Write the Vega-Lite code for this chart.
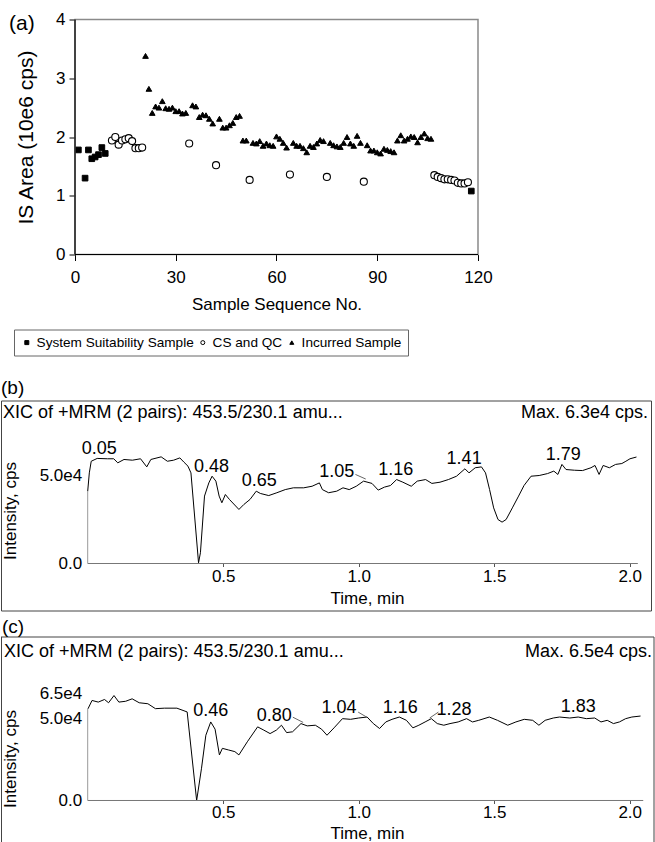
{
  "$schema": "https://vega.github.io/schema/vega-lite/v6.json",
  "padding": {"top": 10.5, "left": 0, "right": 0, "bottom": 0},
  "bounds": "flush",
  "spacing": 26,
  "config": {
    "font": "Liberation Sans",
    "view": {"stroke": null},
    "axis": {"labelFont": "Liberation Sans", "titleFont": "Liberation Sans", "labelColor": "black", "titleColor": "black", "titleFontWeight": "normal", "grid": false, "labelFlush": false, "labelOverlap": false, "domain": false, "tickColor": "black"},
    "legend": {"orient": "none", "legendX": 13, "legendY": 310, "direction": "horizontal", "title": null, "labelFontSize": 13.6, "labelFont": "Liberation Sans", "labelColor": "black", "labelLimit": 400, "symbolSize": 16, "symbolStrokeWidth": 1, "strokeColor": "#666", "fillColor": "white", "padding": 6, "columnPadding": 2, "labelOffset": 3},
    "text": {"font": "Liberation Sans", "fill": "black"}
  },
  "datasets": {
    "isarea": [
      {"sample": 1, "area": 1.78, "group": "System Suitability Sample"},
      {"sample": 3, "area": 1.30, "group": "System Suitability Sample"},
      {"sample": 4, "area": 1.78, "group": "System Suitability Sample"},
      {"sample": 5, "area": 1.63, "group": "System Suitability Sample"},
      {"sample": 6, "area": 1.66, "group": "System Suitability Sample"},
      {"sample": 7, "area": 1.70, "group": "System Suitability Sample"},
      {"sample": 8, "area": 1.82, "group": "System Suitability Sample"},
      {"sample": 9, "area": 1.72, "group": "System Suitability Sample"},
      {"sample": 118, "area": 1.08, "group": "System Suitability Sample"},
      {"sample": 11, "area": 1.94, "group": "CS and QC"},
      {"sample": 12, "area": 2.00, "group": "CS and QC"},
      {"sample": 13, "area": 1.87, "group": "CS and QC"},
      {"sample": 14, "area": 1.94, "group": "CS and QC"},
      {"sample": 15, "area": 1.96, "group": "CS and QC"},
      {"sample": 16, "area": 1.98, "group": "CS and QC"},
      {"sample": 17, "area": 1.93, "group": "CS and QC"},
      {"sample": 18, "area": 1.81, "group": "CS and QC"},
      {"sample": 19, "area": 1.81, "group": "CS and QC"},
      {"sample": 20, "area": 1.82, "group": "CS and QC"},
      {"sample": 34, "area": 1.89, "group": "CS and QC"},
      {"sample": 42, "area": 1.52, "group": "CS and QC"},
      {"sample": 52, "area": 1.27, "group": "CS and QC"},
      {"sample": 64, "area": 1.36, "group": "CS and QC"},
      {"sample": 75, "area": 1.32, "group": "CS and QC"},
      {"sample": 86, "area": 1.24, "group": "CS and QC"},
      {"sample": 107, "area": 1.35, "group": "CS and QC"},
      {"sample": 108, "area": 1.32, "group": "CS and QC"},
      {"sample": 109, "area": 1.30, "group": "CS and QC"},
      {"sample": 110, "area": 1.28, "group": "CS and QC"},
      {"sample": 111, "area": 1.28, "group": "CS and QC"},
      {"sample": 112, "area": 1.27, "group": "CS and QC"},
      {"sample": 113, "area": 1.26, "group": "CS and QC"},
      {"sample": 114, "area": 1.22, "group": "CS and QC"},
      {"sample": 115, "area": 1.21, "group": "CS and QC"},
      {"sample": 116, "area": 1.21, "group": "CS and QC"},
      {"sample": 117, "area": 1.23, "group": "CS and QC"},
      {"sample": 21, "area": 3.38, "group": "Incurred Sample"},
      {"sample": 22, "area": 2.82, "group": "Incurred Sample"},
      {"sample": 23, "area": 2.41, "group": "Incurred Sample"},
      {"sample": 24, "area": 2.52, "group": "Incurred Sample"},
      {"sample": 25, "area": 2.50, "group": "Incurred Sample"},
      {"sample": 26, "area": 2.61, "group": "Incurred Sample"},
      {"sample": 27, "area": 2.49, "group": "Incurred Sample"},
      {"sample": 28, "area": 2.48, "group": "Incurred Sample"},
      {"sample": 29, "area": 2.50, "group": "Incurred Sample"},
      {"sample": 30, "area": 2.44, "group": "Incurred Sample"},
      {"sample": 31, "area": 2.44, "group": "Incurred Sample"},
      {"sample": 32, "area": 2.40, "group": "Incurred Sample"},
      {"sample": 33, "area": 2.41, "group": "Incurred Sample"},
      {"sample": 35, "area": 2.54, "group": "Incurred Sample"},
      {"sample": 36, "area": 2.52, "group": "Incurred Sample"},
      {"sample": 37, "area": 2.34, "group": "Incurred Sample"},
      {"sample": 38, "area": 2.38, "group": "Incurred Sample"},
      {"sample": 39, "area": 2.37, "group": "Incurred Sample"},
      {"sample": 40, "area": 2.31, "group": "Incurred Sample"},
      {"sample": 41, "area": 2.23, "group": "Incurred Sample"},
      {"sample": 43, "area": 2.31, "group": "Incurred Sample"},
      {"sample": 44, "area": 2.16, "group": "Incurred Sample"},
      {"sample": 45, "area": 2.16, "group": "Incurred Sample"},
      {"sample": 46, "area": 2.20, "group": "Incurred Sample"},
      {"sample": 47, "area": 2.24, "group": "Incurred Sample"},
      {"sample": 48, "area": 2.34, "group": "Incurred Sample"},
      {"sample": 49, "area": 2.36, "group": "Incurred Sample"},
      {"sample": 50, "area": 1.94, "group": "Incurred Sample"},
      {"sample": 51, "area": 1.94, "group": "Incurred Sample"},
      {"sample": 53, "area": 1.90, "group": "Incurred Sample"},
      {"sample": 54, "area": 1.89, "group": "Incurred Sample"},
      {"sample": 55, "area": 1.93, "group": "Incurred Sample"},
      {"sample": 56, "area": 1.85, "group": "Incurred Sample"},
      {"sample": 57, "area": 1.89, "group": "Incurred Sample"},
      {"sample": 58, "area": 1.86, "group": "Incurred Sample"},
      {"sample": 59, "area": 1.85, "group": "Incurred Sample"},
      {"sample": 60, "area": 2.01, "group": "Incurred Sample"},
      {"sample": 61, "area": 1.97, "group": "Incurred Sample"},
      {"sample": 62, "area": 1.90, "group": "Incurred Sample"},
      {"sample": 63, "area": 1.82, "group": "Incurred Sample"},
      {"sample": 65, "area": 1.90, "group": "Incurred Sample"},
      {"sample": 66, "area": 1.85, "group": "Incurred Sample"},
      {"sample": 67, "area": 1.85, "group": "Incurred Sample"},
      {"sample": 68, "area": 1.81, "group": "Incurred Sample"},
      {"sample": 69, "area": 1.74, "group": "Incurred Sample"},
      {"sample": 70, "area": 1.85, "group": "Incurred Sample"},
      {"sample": 71, "area": 1.83, "group": "Incurred Sample"},
      {"sample": 72, "area": 1.89, "group": "Incurred Sample"},
      {"sample": 73, "area": 1.95, "group": "Incurred Sample"},
      {"sample": 74, "area": 1.93, "group": "Incurred Sample"},
      {"sample": 76, "area": 1.90, "group": "Incurred Sample"},
      {"sample": 77, "area": 1.86, "group": "Incurred Sample"},
      {"sample": 78, "area": 1.84, "group": "Incurred Sample"},
      {"sample": 79, "area": 1.83, "group": "Incurred Sample"},
      {"sample": 80, "area": 1.90, "group": "Incurred Sample"},
      {"sample": 81, "area": 2.00, "group": "Incurred Sample"},
      {"sample": 82, "area": 1.89, "group": "Incurred Sample"},
      {"sample": 83, "area": 1.85, "group": "Incurred Sample"},
      {"sample": 84, "area": 2.02, "group": "Incurred Sample"},
      {"sample": 85, "area": 1.90, "group": "Incurred Sample"},
      {"sample": 87, "area": 1.86, "group": "Incurred Sample"},
      {"sample": 88, "area": 1.77, "group": "Incurred Sample"},
      {"sample": 89, "area": 1.77, "group": "Incurred Sample"},
      {"sample": 90, "area": 1.74, "group": "Incurred Sample"},
      {"sample": 91, "area": 1.72, "group": "Incurred Sample"},
      {"sample": 92, "area": 1.80, "group": "Incurred Sample"},
      {"sample": 93, "area": 1.78, "group": "Incurred Sample"},
      {"sample": 94, "area": 1.76, "group": "Incurred Sample"},
      {"sample": 95, "area": 1.74, "group": "Incurred Sample"},
      {"sample": 96, "area": 1.94, "group": "Incurred Sample"},
      {"sample": 97, "area": 2.03, "group": "Incurred Sample"},
      {"sample": 98, "area": 1.94, "group": "Incurred Sample"},
      {"sample": 99, "area": 1.97, "group": "Incurred Sample"},
      {"sample": 100, "area": 2.01, "group": "Incurred Sample"},
      {"sample": 101, "area": 2.00, "group": "Incurred Sample"},
      {"sample": 102, "area": 1.91, "group": "Incurred Sample"},
      {"sample": 103, "area": 2.00, "group": "Incurred Sample"},
      {"sample": 104, "area": 2.06, "group": "Incurred Sample"},
      {"sample": 105, "area": 1.98, "group": "Incurred Sample"},
      {"sample": 106, "area": 1.97, "group": "Incurred Sample"}
    ],
    "chromB": [
      {"t": 0.000, "i": 41000}, {"t": 0.006, "i": 51500}, {"t": 0.013, "i": 58100}, {"t": 0.035, "i": 59700},
      {"t": 0.073, "i": 59500}, {"t": 0.096, "i": 59500}, {"t": 0.111, "i": 57200}, {"t": 0.134, "i": 59100},
      {"t": 0.165, "i": 58700}, {"t": 0.195, "i": 59500}, {"t": 0.218, "i": 54900}, {"t": 0.233, "i": 59100},
      {"t": 0.271, "i": 60600}, {"t": 0.294, "i": 58100}, {"t": 0.317, "i": 58700}, {"t": 0.340, "i": 60000},
      {"t": 0.355, "i": 57600}, {"t": 0.370, "i": 55300}, {"t": 0.381, "i": 51500}, {"t": 0.409, "i": 400},
      {"t": 0.416, "i": 6100}, {"t": 0.431, "i": 38300}, {"t": 0.447, "i": 45800}, {"t": 0.459, "i": 49600},
      {"t": 0.473, "i": 46800}, {"t": 0.485, "i": 38300}, {"t": 0.495, "i": 34500}, {"t": 0.508, "i": 39200},
      {"t": 0.523, "i": 36400}, {"t": 0.558, "i": 30700}, {"t": 0.576, "i": 33500}, {"t": 0.599, "i": 36400},
      {"t": 0.622, "i": 41100}, {"t": 0.637, "i": 39800}, {"t": 0.668, "i": 38600}, {"t": 0.698, "i": 40200},
      {"t": 0.729, "i": 42000}, {"t": 0.759, "i": 43000}, {"t": 0.797, "i": 43000}, {"t": 0.828, "i": 43900},
      {"t": 0.855, "i": 45800}, {"t": 0.866, "i": 42000}, {"t": 0.889, "i": 40200}, {"t": 0.919, "i": 41100},
      {"t": 0.942, "i": 43000}, {"t": 0.965, "i": 42000}, {"t": 0.991, "i": 43900}, {"t": 1.018, "i": 46800},
      {"t": 1.049, "i": 45500}, {"t": 1.072, "i": 41700}, {"t": 1.095, "i": 43400}, {"t": 1.117, "i": 44300},
      {"t": 1.140, "i": 47700}, {"t": 1.163, "i": 46200}, {"t": 1.194, "i": 43900}, {"t": 1.216, "i": 46800},
      {"t": 1.247, "i": 47700}, {"t": 1.270, "i": 45500}, {"t": 1.300, "i": 46200}, {"t": 1.331, "i": 47700},
      {"t": 1.361, "i": 49600}, {"t": 1.392, "i": 53800}, {"t": 1.407, "i": 51500}, {"t": 1.430, "i": 54400},
      {"t": 1.453, "i": 54900}, {"t": 1.468, "i": 51500}, {"t": 1.483, "i": 42000}, {"t": 1.498, "i": 31600},
      {"t": 1.514, "i": 25000}, {"t": 1.529, "i": 23500}, {"t": 1.544, "i": 25000}, {"t": 1.567, "i": 31600},
      {"t": 1.590, "i": 38300}, {"t": 1.610, "i": 44300}, {"t": 1.636, "i": 49600}, {"t": 1.666, "i": 50000},
      {"t": 1.697, "i": 51100}, {"t": 1.720, "i": 52500}, {"t": 1.735, "i": 50600}, {"t": 1.750, "i": 56300},
      {"t": 1.765, "i": 53400}, {"t": 1.796, "i": 53000}, {"t": 1.826, "i": 52800}, {"t": 1.857, "i": 54400},
      {"t": 1.872, "i": 55700}, {"t": 1.887, "i": 50600}, {"t": 1.902, "i": 55700}, {"t": 1.925, "i": 54400},
      {"t": 1.948, "i": 56300}, {"t": 1.971, "i": 56800}, {"t": 1.986, "i": 58100}, {"t": 2.001, "i": 59500},
      {"t": 2.025, "i": 60500}
    ],
    "chromC": [
      {"t": 0.001, "i": 55900}, {"t": 0.016, "i": 61000}, {"t": 0.039, "i": 60000}, {"t": 0.062, "i": 61600},
      {"t": 0.077, "i": 59600}, {"t": 0.097, "i": 64000}, {"t": 0.115, "i": 60000}, {"t": 0.140, "i": 60500},
      {"t": 0.164, "i": 62000}, {"t": 0.190, "i": 59600}, {"t": 0.222, "i": 59000}, {"t": 0.250, "i": 56000},
      {"t": 0.283, "i": 56300}, {"t": 0.329, "i": 56300}, {"t": 0.367, "i": 54000}, {"t": 0.402, "i": 0},
      {"t": 0.420, "i": 19700}, {"t": 0.436, "i": 39800}, {"t": 0.454, "i": 47900}, {"t": 0.470, "i": 43500},
      {"t": 0.486, "i": 27800}, {"t": 0.497, "i": 31800}, {"t": 0.520, "i": 30800}, {"t": 0.543, "i": 29800},
      {"t": 0.558, "i": 27800}, {"t": 0.589, "i": 35800}, {"t": 0.627, "i": 44900}, {"t": 0.650, "i": 42900},
      {"t": 0.673, "i": 40800}, {"t": 0.696, "i": 42900}, {"t": 0.715, "i": 45900}, {"t": 0.734, "i": 41400},
      {"t": 0.756, "i": 41900}, {"t": 0.787, "i": 46900}, {"t": 0.810, "i": 45500}, {"t": 0.840, "i": 45900},
      {"t": 0.863, "i": 43500}, {"t": 0.883, "i": 39800}, {"t": 0.909, "i": 44300}, {"t": 0.940, "i": 49900},
      {"t": 0.970, "i": 49500}, {"t": 1.000, "i": 50300}, {"t": 1.031, "i": 50900}, {"t": 1.054, "i": 46900},
      {"t": 1.077, "i": 43900}, {"t": 1.100, "i": 47900}, {"t": 1.123, "i": 49500}, {"t": 1.150, "i": 50900},
      {"t": 1.176, "i": 48900}, {"t": 1.200, "i": 44300}, {"t": 1.222, "i": 45900}, {"t": 1.245, "i": 47900},
      {"t": 1.268, "i": 49900}, {"t": 1.290, "i": 46900}, {"t": 1.314, "i": 45900}, {"t": 1.337, "i": 46900},
      {"t": 1.367, "i": 47900}, {"t": 1.398, "i": 49900}, {"t": 1.420, "i": 47900}, {"t": 1.443, "i": 48900},
      {"t": 1.482, "i": 50900}, {"t": 1.512, "i": 48900}, {"t": 1.550, "i": 45900}, {"t": 1.580, "i": 47900},
      {"t": 1.611, "i": 49500}, {"t": 1.642, "i": 48900}, {"t": 1.665, "i": 45900}, {"t": 1.688, "i": 48900},
      {"t": 1.718, "i": 50300}, {"t": 1.741, "i": 50900}, {"t": 1.779, "i": 50300}, {"t": 1.810, "i": 50900},
      {"t": 1.840, "i": 49900}, {"t": 1.871, "i": 50300}, {"t": 1.894, "i": 47900}, {"t": 1.917, "i": 48900},
      {"t": 1.940, "i": 46900}, {"t": 1.962, "i": 47900}, {"t": 1.985, "i": 49900}, {"t": 2.008, "i": 50900},
      {"t": 2.040, "i": 51500}
    ],
    "peaksB": [
      {"label": "0.05", "t": 0.043, "i": 65200},
      {"label": "0.48", "t": 0.457, "i": 54700},
      {"label": "0.65", "t": 0.633, "i": 46800},
      {"label": "1.05", "t": 0.919, "i": 51900},
      {"label": "1.16", "t": 1.137, "i": 53400},
      {"label": "1.41", "t": 1.389, "i": 59500},
      {"label": "1.79", "t": 1.755, "i": 61900}
    ],
    "leadersB": [
      {"t": 0.988, "i": 50600, "t2": 1.026, "i2": 48000}
    ],
    "peaksC": [
      {"label": "0.46", "t": 0.454, "i": 54500},
      {"label": "0.80", "t": 0.688, "i": 51500},
      {"label": "1.04", "t": 0.927, "i": 56300},
      {"label": "1.16", "t": 1.153, "i": 56300},
      {"label": "1.28", "t": 1.352, "i": 54900},
      {"label": "1.83", "t": 1.810, "i": 56900}
    ],
    "leadersC": [
      {"t": 0.757, "i": 50800, "t2": 0.795, "i2": 47600},
      {"t": 0.998, "i": 53900, "t2": 1.031, "i2": 50700},
      {"t": 1.294, "i": 53900, "t2": 1.262, "i2": 50300}
    ]
  },
  "vconcat": [
    {
      "width": 655,
      "height": 355,
      "layer": [
        {
          "data": {"name": "isarea"},
          "transform": [{"filter": "datum.group != 'CS and QC'"}],
          "mark": {"type": "point", "filled": true, "strokeWidth": 1, "opacity": 1, "size": 32},
          "encoding": {
            "x": {
              "field": "sample", "type": "quantitative",
              "scale": {"domain": [-22.035, 173.003], "nice": false, "zero": false},
              "axis": {"values": [0, 30, 60, 90, 120], "format": "d", "offset": -120, "tickSize": 6, "labelPadding": 9, "labelFontSize": 17, "title": "Sample Sequence No.", "titleFontSize": 17, "titleX": 275.5, "titleY": 50, "titleBaseline": "middle"}
            },
            "y": {
              "field": "area", "type": "quantitative",
              "scale": {"domain": [-2.04255, 4], "nice": false, "zero": false},
              "axis": {"values": [0, 1, 2, 3, 4], "format": "d", "offset": -74, "tickSize": 6, "labelPadding": 4, "labelFontSize": 17, "title": "IS Area (10e6 cps)", "titleFontSize": 21, "titleX": -49, "titleY": 117.5, "titleBaseline": "middle", "titleAngle": -90}
            },
            "shape": {
              "field": "group", "type": "nominal",
              "scale": {"domain": ["System Suitability Sample", "CS and QC", "Incurred Sample"], "range": ["square", "circle", "triangle-up"]}
            },
            "fill": {
              "field": "group", "type": "nominal",
              "scale": {"domain": ["System Suitability Sample", "CS and QC", "Incurred Sample"], "range": ["black", "white", "black"]}
            },
            "stroke": {
              "field": "group", "type": "nominal",
              "scale": {"domain": ["System Suitability Sample", "CS and QC", "Incurred Sample"], "range": ["black", "black", "black"]}
            }
          }
        },
        {
          "data": {"name": "isarea"},
          "transform": [{"filter": "datum.group == 'CS and QC'"}],
          "mark": {"type": "point", "filled": true, "strokeWidth": 1.1, "opacity": 1, "size": 50},
          "encoding": {
            "x": {"field": "sample", "type": "quantitative", "scale": {"domain": [-22.035, 173.003], "nice": false, "zero": false}},
            "y": {"field": "area", "type": "quantitative", "scale": {"domain": [-2.04255, 4], "nice": false, "zero": false}},
            "shape": {
              "field": "group", "type": "nominal",
              "scale": {"domain": ["System Suitability Sample", "CS and QC", "Incurred Sample"], "range": ["square", "circle", "triangle-up"]}
            },
            "fill": {
              "field": "group", "type": "nominal",
              "scale": {"domain": ["System Suitability Sample", "CS and QC", "Incurred Sample"], "range": ["black", "white", "black"]}
            },
            "stroke": {
              "field": "group", "type": "nominal",
              "scale": {"domain": ["System Suitability Sample", "CS and QC", "Incurred Sample"], "range": ["black", "black", "black"]}
            }
          }
        },
        {
          "data": {"values": [{}]},
          "mark": {"type": "rect", "fillOpacity": 0, "stroke": "#8a8a8a", "strokeWidth": 1.5},
          "encoding": {
            "x": {"datum": 0, "type": "quantitative", "scale": {"domain": [-22.035, 173.003], "nice": false, "zero": false}},
            "x2": {"datum": 120},
            "y": {"datum": 0, "type": "quantitative", "scale": {"domain": [-2.04255, 4], "nice": false, "zero": false}},
            "y2": {"datum": 4}
          }
        },
        {
          "data": {"values": [{}]},
          "mark": {"type": "rule", "color": "black", "strokeWidth": 1.2},
          "encoding": {
            "x": {"datum": 0, "type": "quantitative", "scale": {"domain": [-22.035, 173.003], "nice": false, "zero": false}},
            "x2": {"datum": 120},
            "y": {"datum": 0, "type": "quantitative", "scale": {"domain": [-2.04255, 4], "nice": false, "zero": false}}
          }
        },
        {
          "data": {"values": [{}]},
          "mark": {"type": "rule", "color": "black", "strokeWidth": 1.2},
          "encoding": {
            "x": {"datum": 0, "type": "quantitative", "scale": {"domain": [-22.035, 173.003], "nice": false, "zero": false}},
            "y": {"datum": 0, "type": "quantitative", "scale": {"domain": [-2.04255, 4], "nice": false, "zero": false}},
            "y2": {"datum": 4}
          }
        },
        {
          "data": {"values": [{}]},
          "mark": {"type": "text", "align": "left", "baseline": "middle", "fontSize": 21},
          "encoding": {
            "x": {"datum": -19.65, "type": "quantitative", "scale": {"domain": [-22.035, 173.003], "nice": false, "zero": false}},
            "y": {"datum": 3.915, "type": "quantitative", "scale": {"domain": [-2.04255, 4], "nice": false, "zero": false}},
            "text": {"value": "(a)"}
          }
        }
      ]
    },
    {
      "width": 650,
      "height": 210,
      "view": {"stroke": "#444", "strokeWidth": 1},
      "layer": [
        {
          "data": {"name": "chromB"},
          "mark": {"type": "line", "color": "black", "strokeWidth": 1},
          "encoding": {
            "x": {
              "field": "t", "type": "quantitative",
              "scale": {"domain": [-0.31993, 2.0786], "nice": false, "zero": false},
              "axis": {"values": [0.5, 1, 1.5, 2], "format": ".1f", "offset": -47, "tickSize": 3, "tickColor": "#555", "labelPadding": 2, "labelFontSize": 17, "title": "Time, min", "titleFontSize": 17, "titleX": 366, "titleY": 35, "titleBaseline": "middle"}
            },
            "y": {
              "field": "i", "type": "quantitative",
              "scale": {"domain": [-26704.5, 92613.6], "nice": false, "zero": false},
              "axis": {"values": [0, 50000], "labelExpr": "datum.value == 0 ? '0.0' : '5.0e4'", "offset": -86.7, "ticks": false, "tickSize": 0, "labelPadding": 6, "labelFontSize": 17, "title": "Intensity, cps", "titleFontSize": 17, "titleX": -77.7, "titleY": 110, "titleBaseline": "middle", "titleAngle": -90}
            }
          }
        },
        {
          "data": {"values": [{}]},
          "mark": {"type": "rule", "color": "#777", "strokeWidth": 1},
          "encoding": {
            "x": {"datum": 0, "type": "quantitative", "scale": {"domain": [-0.31993, 2.0786], "nice": false, "zero": false}},
            "x2": {"datum": 2.03},
            "y": {"datum": 0, "type": "quantitative", "scale": {"domain": [-26704.5, 92613.6], "nice": false, "zero": false}}
          }
        },
        {
          "data": {"values": [{}]},
          "mark": {"type": "rule", "color": "#999", "strokeWidth": 1},
          "encoding": {
            "x": {"datum": 0, "type": "quantitative", "scale": {"domain": [-0.31993, 2.0786], "nice": false, "zero": false}},
            "y": {"datum": 0, "type": "quantitative", "scale": {"domain": [-26704.5, 92613.6], "nice": false, "zero": false}},
            "y2": {"datum": 41000}
          }
        },
        {
          "data": {"name": "leadersB"},
          "mark": {"type": "rule", "color": "#666", "strokeWidth": 1},
          "encoding": {
            "x": {"field": "t", "type": "quantitative", "scale": {"domain": [-0.31993, 2.0786], "nice": false, "zero": false}},
            "x2": {"field": "t2"},
            "y": {"field": "i", "type": "quantitative", "scale": {"domain": [-26704.5, 92613.6], "nice": false, "zero": false}},
            "y2": {"field": "i2"}
          }
        },
        {
          "data": {"name": "peaksB"},
          "mark": {"type": "text", "align": "center", "baseline": "middle", "fontSize": 18},
          "encoding": {
            "x": {"field": "t", "type": "quantitative", "scale": {"domain": [-0.31993, 2.0786], "nice": false, "zero": false}},
            "y": {"field": "i", "type": "quantitative", "scale": {"domain": [-26704.5, 92613.6], "nice": false, "zero": false}},
            "text": {"field": "label"}
          }
        },
        {
          "data": {"values": [{}]},
          "mark": {"type": "text", "align": "left", "baseline": "middle", "fontSize": 18},
          "encoding": {
            "x": {"datum": -0.31255, "type": "quantitative", "scale": {"domain": [-0.31993, 2.0786], "nice": false, "zero": false}},
            "y": {"datum": 85625, "type": "quantitative", "scale": {"domain": [-26704.5, 92613.6], "nice": false, "zero": false}},
            "text": {"value": "XIC of +MRM (2 pairs): 453.5/230.1 amu..."}
          }
        },
        {
          "data": {"values": [{}]},
          "mark": {"type": "text", "align": "right", "baseline": "middle", "fontSize": 18},
          "encoding": {
            "x": {"datum": 2.06753, "type": "quantitative", "scale": {"domain": [-0.31993, 2.0786], "nice": false, "zero": false}},
            "y": {"datum": 85625, "type": "quantitative", "scale": {"domain": [-26704.5, 92613.6], "nice": false, "zero": false}},
            "text": {"value": "Max. 6.3e4 cps."}
          }
        },
        {
          "data": {"values": [{}]},
          "mark": {"type": "text", "align": "left", "baseline": "middle", "fontSize": 19},
          "encoding": {
            "x": {"datum": -0.31993, "type": "quantitative", "scale": {"domain": [-0.31993, 2.0786], "nice": false, "zero": false}},
            "y": {"datum": 99432, "type": "quantitative", "scale": {"domain": [-26704.5, 92613.6], "nice": false, "zero": false}},
            "text": {"value": "(b)"}
          }
        }
      ]
    },
    {
      "width": 655,
      "height": 206,
      "layer": [
        {
          "data": {"name": "chromC"},
          "mark": {"type": "line", "color": "black", "strokeWidth": 1},
          "encoding": {
            "x": {
              "field": "t", "type": "quantitative",
              "scale": {"domain": [-0.31993, 2.09705], "nice": false, "zero": false},
              "axis": {"values": [0.5, 1, 1.5, 2], "format": ".1f", "offset": -42, "tickSize": 3, "tickColor": "#555", "labelPadding": 1, "labelFontSize": 17, "title": "Time, min", "titleFontSize": 17, "titleX": 366, "titleY": 33, "titleBaseline": "middle"}
            },
            "y": {
              "field": "i", "type": "quantitative",
              "scale": {"domain": [-25609.8, 100000], "nice": false, "zero": false},
              "axis": {"values": [0, 50000, 65000], "labelExpr": "datum.value == 0 ? '0.0' : (datum.value == 50000 ? '5.0e4' : '6.5e4')", "offset": -86.7, "ticks": false, "tickSize": 0, "labelPadding": 6, "labelFontSize": 17, "title": "Intensity, cps", "titleFontSize": 17, "titleX": -77.7, "titleY": 122, "titleBaseline": "middle", "titleAngle": -90}
            }
          }
        },
        {
          "data": {"values": [{}]},
          "mark": {"type": "rule", "color": "#444", "strokeWidth": 1},
          "encoding": {
            "x": {"datum": -0.31993, "type": "quantitative", "scale": {"domain": [-0.31993, 2.09705], "nice": false, "zero": false}},
            "x2": {"datum": 2.0897},
            "y": {"datum": 99695, "type": "quantitative", "scale": {"domain": [-25609.8, 100000], "nice": false, "zero": false}}
          }
        },
        {
          "data": {"values": [{}]},
          "mark": {"type": "rule", "color": "#444", "strokeWidth": 1},
          "encoding": {
            "x": {"datum": -0.31808, "type": "quantitative", "scale": {"domain": [-0.31993, 2.09705], "nice": false, "zero": false}},
            "y": {"datum": -25609.8, "type": "quantitative", "scale": {"domain": [-25609.8, 100000], "nice": false, "zero": false}},
            "y2": {"datum": 99695}
          }
        },
        {
          "data": {"values": [{}]},
          "mark": {"type": "rule", "color": "#444", "strokeWidth": 1},
          "encoding": {
            "x": {"datum": 2.0897, "type": "quantitative", "scale": {"domain": [-0.31993, 2.09705], "nice": false, "zero": false}},
            "y": {"datum": -25609.8, "type": "quantitative", "scale": {"domain": [-25609.8, 100000], "nice": false, "zero": false}},
            "y2": {"datum": 99695}
          }
        },
        {
          "data": {"values": [{}]},
          "mark": {"type": "rule", "color": "#777", "strokeWidth": 1},
          "encoding": {
            "x": {"datum": 0, "type": "quantitative", "scale": {"domain": [-0.31993, 2.09705], "nice": false, "zero": false}},
            "x2": {"datum": 2.05},
            "y": {"datum": 0, "type": "quantitative", "scale": {"domain": [-25609.8, 100000], "nice": false, "zero": false}}
          }
        },
        {
          "data": {"values": [{}]},
          "mark": {"type": "rule", "color": "#999", "strokeWidth": 1},
          "encoding": {
            "x": {"datum": 0, "type": "quantitative", "scale": {"domain": [-0.31993, 2.09705], "nice": false, "zero": false}},
            "y": {"datum": 0, "type": "quantitative", "scale": {"domain": [-25609.8, 100000], "nice": false, "zero": false}},
            "y2": {"datum": 55900}
          }
        },
        {
          "data": {"name": "leadersC"},
          "mark": {"type": "rule", "color": "#666", "strokeWidth": 1},
          "encoding": {
            "x": {"field": "t", "type": "quantitative", "scale": {"domain": [-0.31993, 2.09705], "nice": false, "zero": false}},
            "x2": {"field": "t2"},
            "y": {"field": "i", "type": "quantitative", "scale": {"domain": [-25609.8, 100000], "nice": false, "zero": false}},
            "y2": {"field": "i2"}
          }
        },
        {
          "data": {"name": "peaksC"},
          "mark": {"type": "text", "align": "center", "baseline": "middle", "fontSize": 18},
          "encoding": {
            "x": {"field": "t", "type": "quantitative", "scale": {"domain": [-0.31993, 2.09705], "nice": false, "zero": false}},
            "y": {"field": "i", "type": "quantitative", "scale": {"domain": [-25609.8, 100000], "nice": false, "zero": false}},
            "text": {"field": "label"}
          }
        },
        {
          "data": {"values": [{}]},
          "mark": {"type": "text", "align": "left", "baseline": "middle", "fontSize": 18},
          "encoding": {
            "x": {"datum": -0.30886, "type": "quantitative", "scale": {"domain": [-0.31993, 2.09705], "nice": false, "zero": false}},
            "y": {"datum": 90427, "type": "quantitative", "scale": {"domain": [-25609.8, 100000], "nice": false, "zero": false}},
            "text": {"value": "XIC of +MRM (2 pairs): 453.5/230.1 amu..."}
          }
        },
        {
          "data": {"values": [{}]},
          "mark": {"type": "text", "align": "right", "baseline": "middle", "fontSize": 18},
          "encoding": {
            "x": {"datum": 2.08229, "type": "quantitative", "scale": {"domain": [-0.31993, 2.09705], "nice": false, "zero": false}},
            "y": {"datum": 90427, "type": "quantitative", "scale": {"domain": [-25609.8, 100000], "nice": false, "zero": false}},
            "text": {"value": "Max. 6.5e4 cps."}
          }
        },
        {
          "data": {"values": [{}]},
          "mark": {"type": "text", "align": "left", "baseline": "middle", "fontSize": 19},
          "encoding": {
            "x": {"datum": -0.31624, "type": "quantitative", "scale": {"domain": [-0.31993, 2.09705], "nice": false, "zero": false}},
            "y": {"datum": 105793, "type": "quantitative", "scale": {"domain": [-25609.8, 100000], "nice": false, "zero": false}},
            "text": {"value": "(c)"}
          }
        }
      ]
    }
  ]
}
